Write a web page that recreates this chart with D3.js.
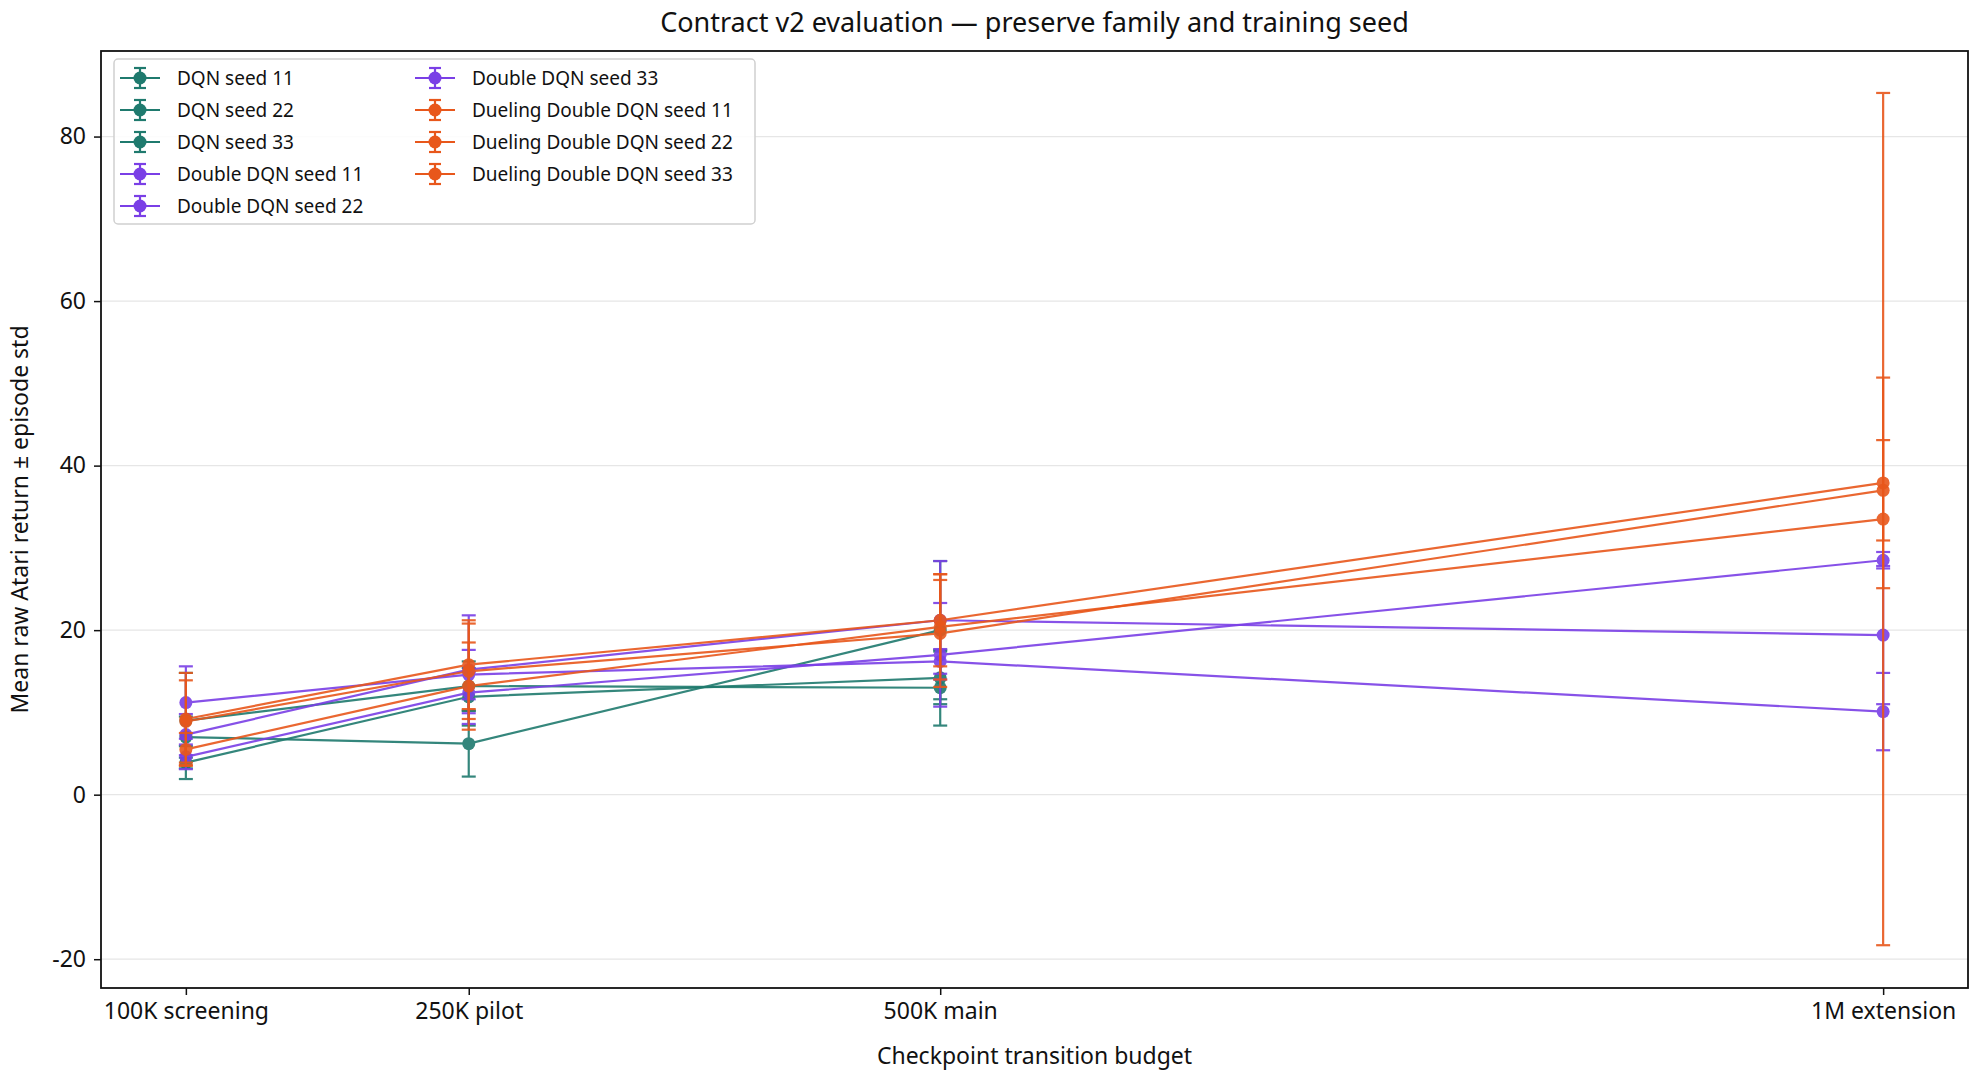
<!DOCTYPE html>
<html><head><meta charset="utf-8">
<script src="https://cdn.jsdelivr.net/npm/d3@7"></script>
<style>body{margin:0;background:#fff;font-family:"Noto Sans","Open Sans",sans-serif;}</style>
</head><body><svg id="c" width="1980" height="1080"></svg>
<script>
const budgets = [100, 250, 500, 1000];
const budgetLabels = ["100K screening", "250K pilot", "500K main", "1M extension"];
const seriesNames = ["DQN seed 11","DQN seed 22","DQN seed 33","Double DQN seed 11","Double DQN seed 22","Double DQN seed 33","Dueling Double DQN seed 11","Dueling Double DQN seed 22","Dueling Double DQN seed 33"];
const families = ["DQN","DQN","DQN","Double","Double","Double","Dueling","Dueling","Dueling"];
const means = [
  [9.0, 13.2, 13.0],
  [7.0, 6.2, 20.0],
  [3.9, 11.9, 14.2],
  [11.2, 14.6, 16.2, 10.1],
  [7.3, 15.2, 21.2, 19.4],
  [4.6, 12.4, 17.0, 28.5],
  [9.2, 15.8, 21.2, 37.9],
  [8.9, 15.0, 19.6, 37.0],
  [5.5, 13.2, 20.4, 33.5]
];
const stds = [
  [5.8, 3.0, 4.6],
  [2.5, 4.0, 8.4],
  [2.0, 3.5, 3.2],
  [4.4, 3.0, 1.5, 4.7],
  [2.5, 6.6, 7.2, 8.4],
  [1.5, 2.5, 6.3, 1.0],
  [5.6, 5.4, 5.6, 12.8],
  [5.0, 5.8, 6.5, 6.1],
  [2.0, 5.3, 6.4, 51.8]
];
const yTicks = [-20, 0, 20, 40, 60, 80];
const colors = {DQN:"#1f7a6e", Double:"#7a3fe6", Dueling:"#e8571b"};

const svg = d3.select("#c");
const m = {l:101, r:1968, t:51, b:988};
const x = d3.scaleLinear().domain([55, 1045]).range([m.l, m.r]);
const y = d3.scaleLinear().domain([-23.5, 90.4]).range([m.b, m.t]);

svg.append("g").selectAll("line").data(yTicks).join("line")
  .attr("x1", m.l).attr("x2", m.r).attr("y1", d=>y(d)).attr("y2", d=>y(d))
  .attr("stroke", "#e6e6e6").attr("stroke-width", 1.2);

const xa = svg.append("g").attr("transform", `translate(0,${m.b})`)
  .call(d3.axisBottom(x).tickValues(budgets).tickFormat((d,i)=>budgetLabels[i]).tickSize(7).tickPadding(8));
const ya = svg.append("g").attr("transform", `translate(${m.l},0)`)
  .call(d3.axisLeft(y).tickValues(yTicks).tickFormat(d=>String(d)).tickSize(7).tickPadding(8));
[xa, ya].forEach(a=>{a.select(".domain").remove(); a.selectAll("text").attr("font-size",23).attr("fill","#111").attr("font-family","Noto Sans, sans-serif"); a.selectAll("line").attr("stroke","#111").attr("stroke-width",1.5);});

svg.append("rect").attr("x", m.l).attr("y", m.t).attr("width", m.r-m.l).attr("height", m.b-m.t)
  .attr("fill","none").attr("stroke","#111").attr("stroke-width",1.8);

const line = d3.line().x(d=>x(d.b)).y(d=>y(d.v));
seriesNames.forEach((name, si)=>{
  const col = colors[families[si]];
  const pts = means[si].map((v,i)=>({b:budgets[i], v, s:stds[si][i]}));
  const g = svg.append("g").attr("opacity",0.9);
  g.selectAll("line.e").data(pts).join("line")
    .attr("x1",d=>x(d.b)).attr("x2",d=>x(d.b)).attr("y1",d=>y(d.v-d.s)).attr("y2",d=>y(d.v+d.s))
    .attr("stroke",col).attr("stroke-width",2.2);
  pts.forEach(d=>{[d.v-d.s, d.v+d.s].forEach(v=>{
    g.append("line").attr("x1",x(d.b)-7).attr("x2",x(d.b)+7).attr("y1",y(v)).attr("y2",y(v)).attr("stroke",col).attr("stroke-width",2.2);
  });});
  g.append("path").datum(pts).attr("d",line).attr("fill","none").attr("stroke",col).attr("stroke-width",2.2);
  g.selectAll("circle").data(pts).join("circle").attr("cx",d=>x(d.b)).attr("cy",d=>y(d.v)).attr("r",6.5).attr("fill",col);
});

const lg = svg.append("g");
lg.append("rect").attr("x",114).attr("y",59).attr("width",641).attr("height",165).attr("rx",4)
  .attr("fill","#fff").attr("fill-opacity",0.85).attr("stroke","#d0d0d0").attr("stroke-width",1.5);
seriesNames.forEach((name, si)=>{
  const col = colors[families[si]];
  const colI = si<5?0:1, row = si<5?si:si-5;
  const lx = 120 + colI*295, ly = 78 + row*32;
  const it = lg.append("g").attr("transform",`translate(${lx},${ly})`);
  it.append("line").attr("x1",0).attr("x2",40).attr("y1",0).attr("y2",0).attr("stroke",col).attr("stroke-width",2.2);
  it.append("line").attr("x1",20).attr("x2",20).attr("y1",-10).attr("y2",10).attr("stroke",col).attr("stroke-width",2.2);
  [-10,10].forEach(dy=>it.append("line").attr("x1",14).attr("x2",26).attr("y1",dy).attr("y2",dy).attr("stroke",col).attr("stroke-width",2.2));
  it.append("circle").attr("cx",20).attr("cy",0).attr("r",6.5).attr("fill",col);
  it.append("text").attr("x",57).attr("y",6.5).attr("font-size",19).attr("fill","#111").text(name);
});

svg.append("text").attr("x",(m.l+m.r)/2).attr("y",32).attr("text-anchor","middle").attr("font-size",27).attr("fill","#111")
  .text("Contract v2 evaluation — preserve family and training seed");
svg.append("text").attr("x",(m.l+m.r)/2).attr("y",1064).attr("text-anchor","middle").attr("font-size",23).attr("fill","#111")
  .text("Checkpoint transition budget");
svg.append("text").attr("transform",`translate(28,${(m.t+m.b)/2}) rotate(-90)`).attr("text-anchor","middle").attr("font-size",23).attr("fill","#111")
  .text("Mean raw Atari return ± episode std");
</script></body></html>
